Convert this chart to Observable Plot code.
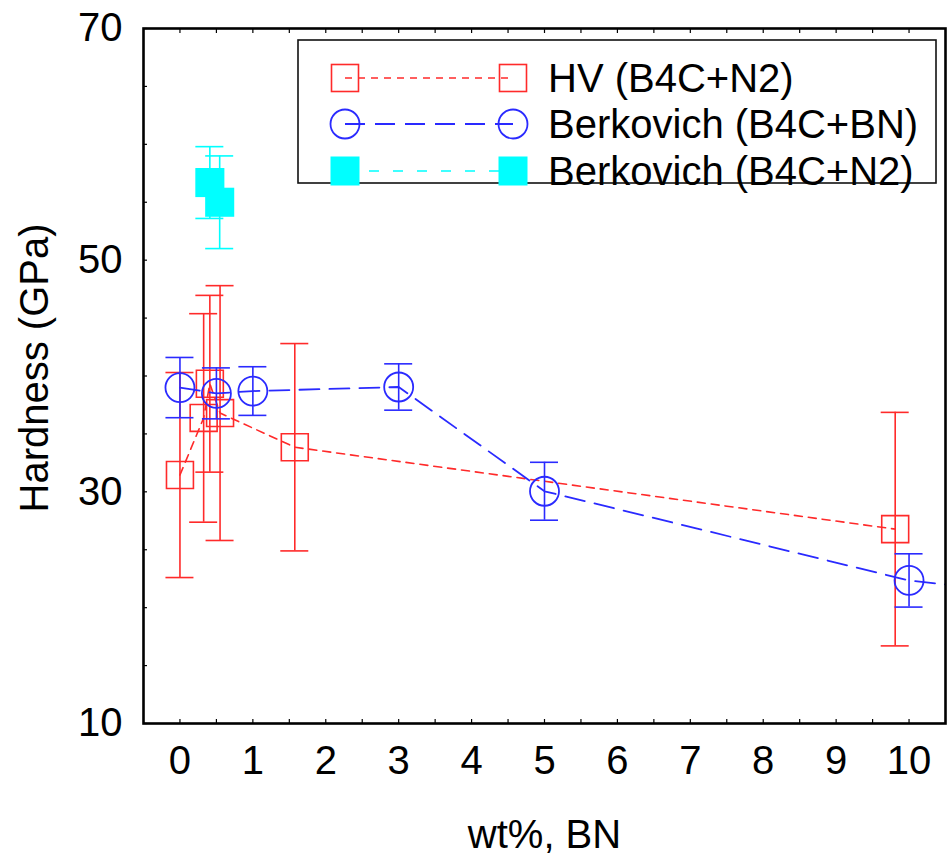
<!DOCTYPE html>
<html><head><meta charset="utf-8">
<script src="https://cdn.jsdelivr.net/npm/d3@7"></script>
<script src="https://cdn.jsdelivr.net/npm/@observablehq/plot@0.6"></script>
<style>body{margin:0;background:#fff}</style>
</head><body><div id="chart"></div>
<script>
// ---- data ----
const hvX   = [0, 0.325, 0.41, 0.55, 1.575, 9.81];
const hvY   = [31.45, 36.38, 39.33, 36.8, 33.85, 26.78];
const hvErr = [8.85, 9.0, 7.63, 11.0, 8.95, 10.08];

const bnX   = [0, 0.5, 1, 3, 5, 10];
const bnY   = [39.0, 38.5, 38.7, 39.05, 30.05, 22.35];
const bnErr = [2.6, 2.2, 2.1, 2.0, 2.5, 2.3];
const bnTailX = [10.5];   // dashed line continues past the last circle
const bnTailY = [22.0];

const n2X   = [0.41, 0.545];
const n2Y   = [56.7, 55.0];
const n2Err = [3.1, 4.0];

const xTickValues = [0,1,2,3,4,5,6,7,8,9,10];
const xMinorTicks = d3.range(0, 10.01, 0.5);
const yTickValues = [10, 30, 50, 70];
const yMinorTicks = [10,15,20,25,30,35,40,45,50,55,60,65,70];

const seriesNames = ["HV (B4C+N2)", "Berkovich (B4C+BN)", "Berkovich (B4C+N2)"];
const RED = "#ff2a2a", BLUE = "#2a2aff", CYAN = "#00ffff";

const hv = hvX.map((x, i) => ({x, y: hvY[i], lo: hvY[i] - hvErr[i], hi: hvY[i] + hvErr[i]}));
const bn = bnX.map((x, i) => ({x, y: bnY[i], lo: bnY[i] - bnErr[i], hi: bnY[i] + bnErr[i]}));
const bnLine = bn.concat(bnTailX.map((x, i) => ({x, y: bnTailY[i]})));
const n2 = n2X.map((x, i) => ({x, y: n2Y[i], lo: n2Y[i] - n2Err[i], hi: n2Y[i] + n2Err[i]}));

const FONT = "'Liberation Sans', Arial, Helvetica, sans-serif";

function errorBars(data, color, w) {
  return [
    Plot.ruleX(data, {x: "x", y1: "lo", y2: "hi", stroke: color, strokeWidth: 1.6}),
    Plot.ruleY(data, {y: "hi", x1: "x", x2: "x", insetLeft: -w, insetRight: -w, stroke: color, strokeWidth: 1.6}),
    Plot.ruleY(data, {y: "lo", x1: "x", x2: "x", insetLeft: -w, insetRight: -w, stroke: color, strokeWidth: 1.6})
  ];
}

const plot = Plot.plot({
  width: 947,
  height: 867,
  marginLeft: 143,
  marginRight: 2,
  marginTop: 28,
  marginBottom: 144,
  style: {fontFamily: FONT, fontSize: "40px", background: "white", color: "black"},
  x: {domain: [-0.5, 10.5], axis: null},
  y: {domain: [10, 70], axis: null},
  marks: [
    // axis ticks (inward) and labels
    Plot.axisX({ticks: xMinorTicks, anchor: "bottom", tickSize: -4, tickFormat: () => "", label: null, strokeWidth: 1.2}),
    Plot.axisX({ticks: xMinorTicks, anchor: "top", tickSize: -4, tickFormat: () => "", label: null, strokeWidth: 1.2}),
    Plot.axisY({ticks: yMinorTicks, anchor: "left", tickSize: -4, tickFormat: () => "", label: null, strokeWidth: 1.2}),
    Plot.axisX({ticks: xTickValues, anchor: "bottom", tickSize: 0, tickPadding: 22, tickFormat: d => String(d), fontSize: 40, label: null}),
    Plot.axisY({ticks: yTickValues, anchor: "left", tickSize: 0, tickPadding: 21, tickFormat: d => String(d), fontSize: 40, label: null}),
    Plot.text(["wt%, BN"], {frameAnchor: "bottom", textAnchor: "middle", lineAnchor: "middle", dy: 112, fontSize: 40, fill: "black"}),
    Plot.text(["Hardness (GPa)"], {frameAnchor: "left", textAnchor: "middle", lineAnchor: "middle", dx: -108, dy: -8, rotate: -90, fontSize: 40, fill: "black"}),

    // HV (B4C+N2)
    ...errorBars(hv, RED, 14),
    Plot.line(hv, {x: "x", y: "y", stroke: RED, strokeWidth: 1.6, strokeDasharray: "8,6"}),
    Plot.dot(hv, {x: "x", y: "y", symbol: "square", r: 15.2, stroke: RED, strokeWidth: 1.6, fill: "none"}),

    // Berkovich (B4C+BN)
    ...errorBars(bn, BLUE, 14),
    Plot.line(bnLine, {x: "x", y: "y", stroke: BLUE, strokeWidth: 1.8, strokeDasharray: "20,10", clip: true}),
    Plot.dot(bn, {x: "x", y: "y", symbol: "circle", r: 14.5, stroke: BLUE, strokeWidth: 1.8, fill: "none"}),

    // Berkovich (B4C+N2)
    ...errorBars(n2, CYAN, 14),
    Plot.line(n2, {x: "x", y: "y", stroke: CYAN, strokeWidth: 1.5, strokeDasharray: "8,12"}),
    Plot.dot(n2, {x: "x", y: "y", symbol: "square", r: 16.4, fill: CYAN, stroke: "none"}),

    Plot.frame({stroke: "black", strokeWidth: 2.6})
  ]
});

// ---- legend (drawn into the same SVG) ----
const svg = d3.select(plot);
const lg = svg.append("g").attr("font-family", FONT).attr("font-size", 40).attr("text-anchor", "start");
lg.append("rect").attr("x", 298).attr("y", 40).attr("width", 638).attr("height", 143)
  .attr("fill", "white").attr("stroke", "#111").attr("stroke-width", 1.6);
const rows = [
  {name: seriesNames[0], y: 78, color: RED, dash: "7,6", sw: 1.6, kind: "sq"},
  {name: seriesNames[1], y: 124, color: BLUE, dash: "20,10", sw: 2, kind: "circ"},
  {name: seriesNames[2], y: 171, color: CYAN, dash: "10,14", sw: 1.5, kind: "fsq"}
];
const mx = [345, 513];
rows.forEach(r => {
  lg.append("line").attr("x1", mx[0]).attr("x2", mx[1]).attr("y1", r.y).attr("y2", r.y)
    .attr("stroke", r.color).attr("stroke-width", r.sw).attr("stroke-dasharray", r.dash);
  mx.forEach(cx => {
    if (r.kind === "circ") {
      lg.append("circle").attr("cx", cx).attr("cy", r.y).attr("r", 14.5)
        .attr("fill", "none").attr("stroke", r.color).attr("stroke-width", 1.8);
    } else {
      const s = r.kind === "sq" ? 27 : 29;
      lg.append("rect").attr("x", cx - s / 2).attr("y", r.y - s / 2).attr("width", s).attr("height", s)
        .attr("fill", r.kind === "sq" ? "none" : r.color)
        .attr("stroke", r.kind === "sq" ? r.color : "none").attr("stroke-width", 1.6);
    }
  });
  lg.append("text").attr("x", 548).attr("y", r.y).attr("dy", "0.35em")
    .attr("text-anchor", "start").attr("fill", "black").text(r.name);
});

document.getElementById("chart").appendChild(plot);
</script>
</body></html>
